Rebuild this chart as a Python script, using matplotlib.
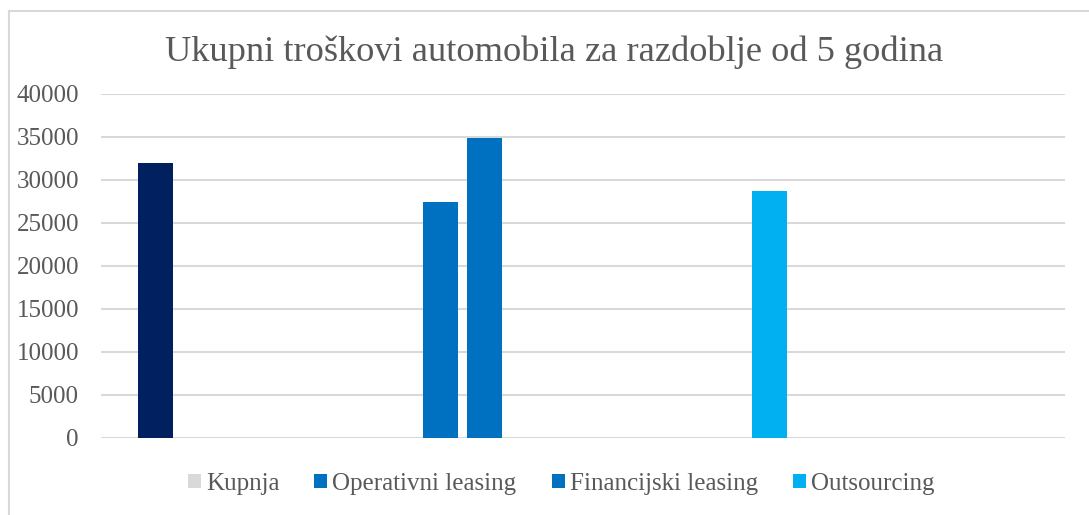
import matplotlib
matplotlib.use("Agg")
import matplotlib.pyplot as plt
from matplotlib.patches import Patch
import numpy as np

title = "Ukupni troškovi automobila za razdoblje od 5 godina"
categories = ["", "", "", ""]
series_names = ["Kupnja", "Operativni leasing", "Financijski leasing", "Outsourcing"]
kupnja = [32000, np.nan, np.nan, np.nan]
operativni = [np.nan, 27400, np.nan, np.nan]
financijski = [np.nan, 34850, np.nan, np.nan]
outsourcing = [np.nan, np.nan, 28700, np.nan]
series_values = [kupnja, operativni, financijski, outsourcing]
bar_colors = ["#002060", "#0070C0", "#0070C0", "#00B0F0"]
legend_colors = ["#D9D9D9", "#0070C0", "#0070C0", "#00B0F0"]
yticks = [0, 5000, 10000, 15000, 20000, 25000, 30000, 35000, 40000]

FONT = ["Liberation Serif", "DejaVu Serif"]
TXT = "#595959"

fig = plt.figure(figsize=(10.89, 5.15), dpi=100)
ax = fig.add_axes([100.5/1089, 1-438/515, 964.5/1089, 344.3/515])

x = np.arange(len(categories))
pitch = 44/241.25
width = 35/241.25
n = len(series_values)
for i, (vals, col) in enumerate(zip(series_values, bar_colors)):
    ax.bar(x + (i - (n-1)/2)*pitch, vals, width=width, color=col, zorder=3)

ax.set_xlim(-0.5, len(categories)-0.5)
ax.set_ylim(0, 40000)
ax.set_yticks(yticks)
ax.set_yticklabels([str(t) for t in yticks], fontfamily=FONT, fontsize=18, color=TXT)
ax.set_xticks([])
ax.tick_params(axis="y", length=0, pad=15.5)
ax.grid(axis="y", color="#D9D9D9", linewidth=1.5, zorder=0)
ax.set_axisbelow(True)
for s in ax.spines.values():
    s.set_visible(False)

fig.text(554/1089, 1-52/515, title, ha="center", va="center",
         fontfamily=FONT, fontsize=26.2, color=TXT)

handles = [Patch(facecolor=c, edgecolor="none") for c in legend_colors]
leg = fig.legend(handles, series_names, loc="center", bbox_to_anchor=(561/1089, 1-484/515),
                 ncol=4, frameon=False, prop={"family": FONT, "size": 18},
                 handlelength=0.52, handleheight=0.52, handletextpad=0.2, columnspacing=1.4,
                 borderpad=0, borderaxespad=0)
for t in leg.get_texts():
    t.set_color(TXT)

# chart area border (top and left visible)
fig.add_artist(plt.Line2D([8.5/1089, 1], [1-11/515, 1-11/515], color="#D9D9D9", linewidth=1.5,
                          transform=fig.transFigure))
fig.add_artist(plt.Line2D([8.5/1089, 8.5/1089], [0, 1-11/515], color="#D9D9D9", linewidth=1.5,
                          transform=fig.transFigure))

fig.savefig("out.png", dpi=100)
